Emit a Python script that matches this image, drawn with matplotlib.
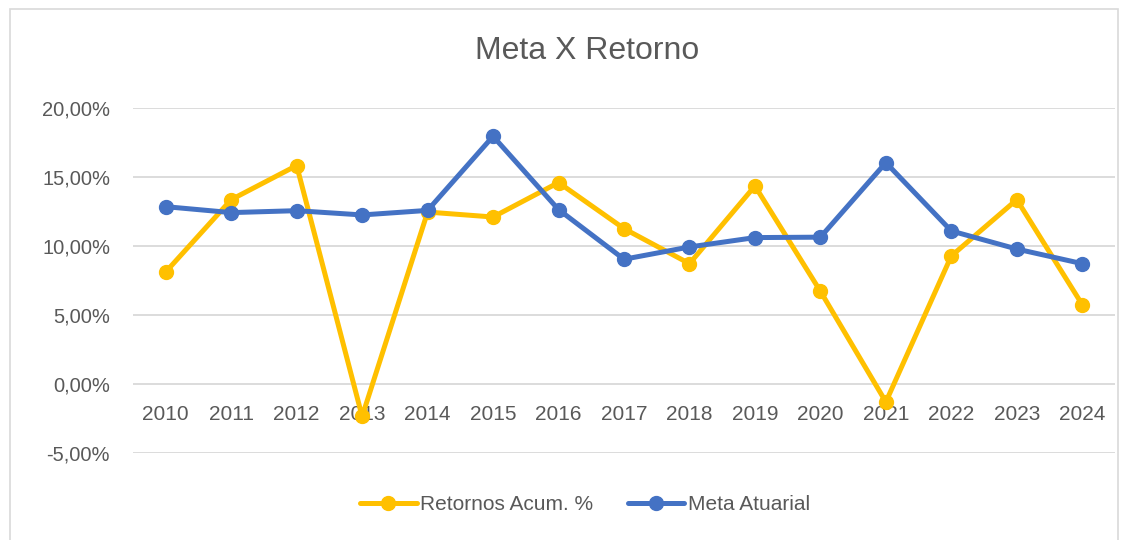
import matplotlib.pyplot as plt
from matplotlib.patches import Rectangle
from matplotlib.ticker import FuncFormatter, MultipleLocator

# Dados (em %)
anos = ['2010', '2011', '2012', '2013', '2014', '2015', '2016', '2017',
        '2018', '2019', '2020', '2021', '2022', '2023', '2024']
retornos = [8.12, 13.36, 15.83, -2.35, 12.46, 12.10, 14.60, 11.26,
            8.72, 14.35, 6.72, -1.30, 9.28, 13.36, 5.75]
meta = [12.85, 12.42, 12.56, 12.25, 12.58, 17.95, 12.64, 9.04,
        9.93, 10.61, 10.64, 16.04, 11.09, 9.78, 8.72]

cinza = '#595959'
plt.rcParams['font.family'] = ['Liberation Sans', 'DejaVu Sans']

fig = plt.figure(figsize=(11.23, 5.4), dpi=100)
ax = fig.add_axes([133 / 1123, 1 - 453 / 540, (1115 - 133) / 1123, (453 - 108) / 540])

# moldura do gráfico
fig.patches.append(Rectangle((10 / 1123, -0.1), 1108 / 1123, 1.1 - 9 / 540,
                             transform=fig.transFigure, fill=False,
                             edgecolor='#d9d9d9', linewidth=1.2))

x = range(len(anos))
ax.plot(x, retornos, color='#FFC000', linewidth=3.6, marker='o', markersize=10,
        label='Retornos Acum. %', solid_capstyle='round', zorder=3)
ax.plot(x, meta, color='#4472C4', linewidth=3.6, marker='o', markersize=10,
        label='Meta Atuarial', solid_capstyle='round', zorder=4)

ax.set_xlim(-0.5, len(anos) - 0.5)
ax.set_ylim(-5, 20)
ax.yaxis.set_major_locator(MultipleLocator(5))
ax.yaxis.set_major_formatter(FuncFormatter(lambda v, p: f'{v:.2f}%'.replace('.', ',')))
ax.grid(axis='y', color='#d9d9d9', linewidth=1.3)
ax.set_axisbelow(True)
for s in ax.spines.values():
    s.set_visible(False)
ax.set_xticks([])
ax.tick_params(axis='y', length=0, pad=16.5, labelsize=14.5, labelcolor=cinza)

# rótulos das categorias junto ao eixo zero
for i, a in enumerate(anos):
    ax.annotate(a, (i, 0), xytext=(0, -31), textcoords='offset pixels',
                ha='center', va='center', fontsize=15, color=cinza, zorder=2)

fig.text(587 / 1123, 1 - 51 / 540, 'Meta X Retorno', ha='center', va='center',
         fontsize=23, color=cinza)

fig.legend(loc='center', bbox_to_anchor=(585 / 1123, 1 - 505 / 540), ncol=2,
           frameon=False, fontsize=15, labelcolor=cinza, handlelength=2.7,
           handletextpad=0.15, columnspacing=1.7)

fig.savefig('out.png', dpi=100)
